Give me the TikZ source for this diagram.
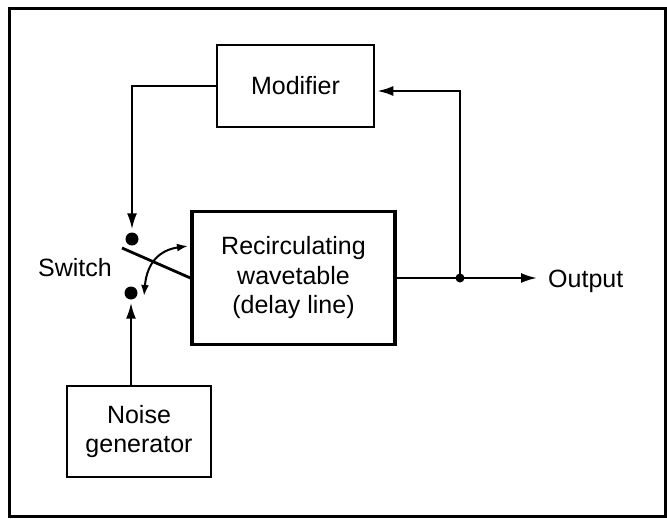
\documentclass[tikz,border=0pt]{standalone}
\usepackage{fontspec}
\setmainfont{Liberation Sans}
\usetikzlibrary{arrows.meta,calc}
\begin{document}
\begin{tikzpicture}[x=1pt,y=-1pt,
  box/.style={draw,line width=2.6pt,inner sep=0pt,align=center,font=\fontsize{25}{29.5}\selectfont},
  lbl/.style={font=\fontsize{25}{29.5}\selectfont,inner sep=0pt},
  conn/.style={line width=2.2pt},
  arr/.style={conn,-{Latex[length=16pt,width=10pt]}},
  dot/.style={circle,fill,inner sep=0pt,minimum size=13pt},
]
\useasboundingbox (0,0) rectangle (667,519);
\draw[line width=3pt] (9.5,8.5) rectangle (665,516);

\node[box,minimum width=157pt,minimum height=82pt] (mod) at (295.5,86) {Modifier};
\node[box,line width=3.2pt,minimum width=203pt,minimum height=133pt] (rec) at (293.5,278) {Recirculating\\wavetable\\(delay line)};
\node[box,minimum width=144pt,minimum height=91pt] (noise) at (139,431.5) {Noise\\generator};

\node[dot] (dotT) at (132,239) {};
\node[dot] (dotB) at (131,293) {};
\node[lbl] (sw) at (75,268) {Switch};
\node[lbl,anchor=west] (out) at (548,281) {Output};
\coordinate (j) at (460,278);
\coordinate (lev) at (122,248);

\draw[arr,shorten >=3pt] (mod.west) -| (dotT.north);
\draw[arr,shorten >=3pt] (noise.north -| dotB) -- (dotB.south);
\draw[line width=2.8pt] (lev) -- (rec.west);
\draw[line width=2pt,{Latex[length=11pt,width=8pt]}-{Latex[length=11pt,width=8pt]}] (144,296) .. controls (147,262) and (160,250) .. (188,246);
\draw[arr,shorten >=11pt] (rec.east) -- (rec.east -| out.west);
\draw[arr,shorten >=2pt] (j) |- ($(mod.east)+(0,5)$);
\fill (j) circle (4.5pt);
\end{tikzpicture}
\end{document}
